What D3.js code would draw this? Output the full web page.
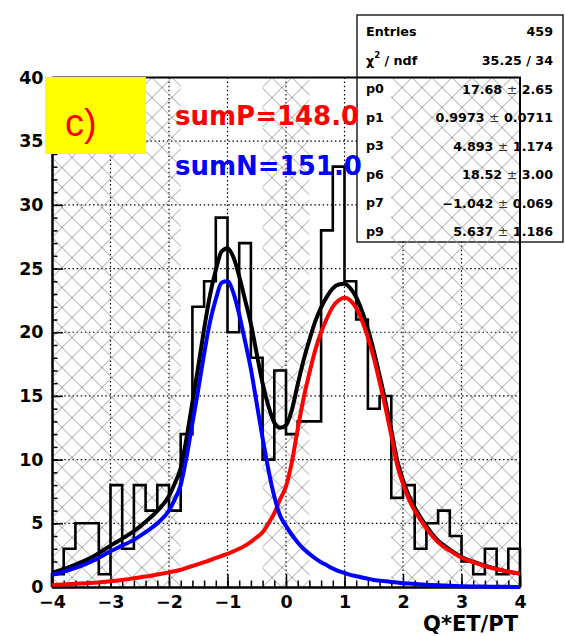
<!DOCTYPE html>
<html>
<head>
<meta charset="utf-8">
<script src="https://cdn.jsdelivr.net/npm/d3@7"></script>
<style>
  html, body { margin: 0; padding: 0; background: #fff; }
  svg { display: block; }
</style>
</head>
<body>
<script>
// Histogram of Q*ET/PT: 40 bins of width 0.2 between -4 and 4
const binStart = -4;
const binWidth = 0.2;
const binCounts = [1, 3, 5, 5, 1, 8, 3, 8, 6, 8,
                   6, 12, 22, 24, 29, 20, 27, 18, 10, 17,
                   12, 13, 13, 28, 33, 24, 21, 14, 15, 7,
                   8, 3, 5, 6, 4, 2, 1, 3, 1, 3];

// Fit curves sampled along x
const fitX = [-4.0, -3.8, -3.6, -3.4, -3.2, -3.0, -2.8, -2.6, -2.4, -2.2,
              -2.0, -1.9, -1.8, -1.7, -1.6, -1.5, -1.4, -1.3, -1.2, -1.1,
              -1.0, -0.9, -0.8, -0.7, -0.6, -0.5, -0.4, -0.3, -0.2, -0.1,
               0.0, 0.1, 0.2, 0.3, 0.4, 0.5, 0.6, 0.7, 0.8, 0.9,
               1.0, 1.1, 1.2, 1.3, 1.4, 1.5, 1.6, 1.7, 1.8, 1.9,
               2.0, 2.1, 2.2, 2.4, 2.6, 2.8, 3.0, 3.2, 3.4, 3.6,
               3.8, 4.0];
const fitNeg = [0.95, 1.2, 1.5, 1.85, 2.3, 2.8, 3.25, 3.7, 4.3, 5.0,
                6.0, 6.9, 8.0, 10.2, 12.85, 15.5, 18.3, 20.8, 22.6, 23.9,
                24.0, 23.1, 21.4, 19.3, 17.1, 14.4, 11.7, 9.2, 7.1, 5.6,
                4.8, 4.1, 3.5, 3.0, 2.6, 2.25, 1.95, 1.7, 1.45, 1.25,
                1.1, 0.95, 0.85, 0.75, 0.65, 0.55, 0.5, 0.45, 0.4, 0.35,
                0.3, 0.27, 0.24, 0.18, 0.13, 0.09, 0.06, 0.04, 0.03, 0.02,
                0.01, 0.0];
const fitPos = [0.16, 0.2, 0.25, 0.3, 0.36, 0.45, 0.55, 0.68, 0.82, 0.98,
                1.15, 1.25, 1.35, 1.5, 1.65, 1.8, 1.95, 2.1, 2.28, 2.45,
                2.6, 2.8, 3.0, 3.25, 3.55, 3.9, 4.3, 5.0, 5.8, 6.9,
                7.9, 9.8, 12.4, 14.8, 16.8, 18.6, 20.0, 21.1, 22.0, 22.5,
                22.7, 22.5, 21.9, 20.9, 19.6, 18.0, 16.1, 14.1, 11.9, 9.6,
                8.1, 6.9, 6.0, 4.6, 3.5, 2.85, 2.3, 1.95, 1.65, 1.4,
                1.2, 1.05];
const fitTotal = [1.11, 1.4, 1.75, 2.15, 2.66, 3.25, 3.8, 4.38, 5.12, 5.98,
                  7.15, 8.15, 9.35, 11.7, 14.5, 17.3, 20.25, 22.9, 24.88, 26.35,
                  26.6, 25.9, 24.4, 22.55, 20.65, 18.3, 16.0, 14.2, 12.9, 12.5,
                  12.7, 13.9, 15.9, 17.8, 19.4, 20.85, 21.95, 22.8, 23.45, 23.75,
                  23.8, 23.45, 22.75, 21.65, 20.25, 18.55, 16.6, 14.55, 12.3, 9.95,
                  8.4, 7.17, 6.24, 4.78, 3.63, 2.94, 2.36, 1.99, 1.68, 1.42,
                  1.21, 1.05];

// Hatched (excluded) x ranges
const hatchRanges = [[-4, -1.8], [-0.4, 0.4], [1.8, 4]];

// Axis ticks
const xMajorTicks = [-4, -3, -2, -1, 0, 1, 2, 3, 4];
const yMajorTicks = [0, 5, 10, 15, 20, 25, 30, 35, 40];

// Statistics box
const statNames = ["Entries", "χ2 / ndf", "p0", "p1", "p3", "p6", "p7", "p9"];
const statValues = ["459", "35.25 / 34", "17.68 ± 2.65", "0.9973 ± 0.0711", "4.893 ± 1.174",
                    "18.52 ± 3.00", "−1.042 ± 0.069", "5.637 ± 1.186"];

const sumLabels = ["sumP=148.0", "sumN=151.0"];
const panelTag = "c)";
const xTitle = "Q*ET/PT";

// ---------------------------------------------------------------
const W = 565, H = 636;
const frame = {left: 52, right: 520, top: 77.5, bottom: 587};
const axisFont = "'DejaVu Sans', sans-serif";

const x = d3.scaleLinear().domain([-4, 4]).range([frame.left, frame.right]);
const y = d3.scaleLinear().domain([0, 40]).range([frame.bottom, frame.top]);

const svg = d3.select("body").append("svg")
  .attr("width", W).attr("height", H)
  .attr("viewBox", `0 0 ${W} ${H}`);

svg.append("rect").attr("width", W).attr("height", H).attr("fill", "#fff");

const defs = svg.append("defs");
defs.append("clipPath").attr("id", "plotClip")
  .append("rect")
  .attr("x", frame.left).attr("y", frame.top)
  .attr("width", frame.right - frame.left)
  .attr("height", frame.bottom - frame.top);

// Cross-hatch tile: both diagonals plus the corner pieces so tiles join seamlessly
const pat = defs.append("pattern")
  .attr("id", "crossHatch")
  .attr("patternUnits", "userSpaceOnUse")
  .attr("width", 20).attr("height", 20)
  .attr("x", frame.left).attr("y", frame.top);
pat.append("path")
  .attr("d", "M-1,-1L21,21M21,-1L-1,21M-1,19L1,21M19,-1L21,1M-1,1L1,-1M19,21L21,19")
  .attr("stroke", "#a0a0a0").attr("stroke-width", 1).attr("fill", "none");

// Dotted grid
const grid = svg.append("g").attr("stroke", "#000").attr("stroke-width", 1.2)
  .attr("stroke-dasharray", "1.5,2.6");
grid.selectAll("line.gx").data(xMajorTicks.slice(1, -1)).join("line")
  .attr("x1", d => x(d)).attr("x2", d => x(d))
  .attr("y1", frame.top).attr("y2", frame.bottom);
grid.selectAll("line.gy").data(yMajorTicks.slice(1, -1)).join("line")
  .attr("x1", frame.left).attr("x2", frame.right)
  .attr("y1", d => y(d)).attr("y2", d => y(d));

// Statistics box
const box = {x: 357, y: 15, w: 206, h: 227};
svg.append("rect")
  .attr("x", box.x).attr("y", box.y).attr("width", box.w).attr("height", box.h)
  .attr("fill", "#fff").attr("stroke", "#000").attr("stroke-width", 1.3);

// Hatched ranges
svg.append("g").attr("clip-path", "url(#plotClip)")
  .selectAll("rect").data(hatchRanges).join("rect")
  .attr("x", d => x(d[0])).attr("width", d => x(d[1]) - x(d[0]))
  .attr("y", frame.top).attr("height", frame.bottom - frame.top)
  .attr("fill", "url(#crossHatch)");

// Statistics text
const rowY = d3.scalePoint().domain(d3.range(statNames.length))
  .range([box.y + 16.7, box.y + 216]);
const stats = svg.append("g")
  .attr("font-family", axisFont).attr("font-weight", "bold")
  .attr("font-size", 12.7).attr("fill", "#000");
statNames.forEach((name, i) => {
  const t = stats.append("text").attr("x", box.x + 9).attr("y", rowY(i))
    .attr("dominant-baseline", "central");
  if (name.startsWith("χ2")) {
    t.append("tspan").text("χ");
    t.append("tspan").attr("dy", -5).attr("font-size", 8.5).text("2");
    t.append("tspan").attr("dy", 5).text(name.slice(2));
  } else {
    t.text(name);
  }
});
statValues.forEach((val, i) => {
  const t = stats.append("text").attr("x", box.x + 196).attr("y", rowY(i))
    .attr("dominant-baseline", "central").attr("text-anchor", "end");
  const parts = val.split("±");
  if (parts.length === 2) {
    t.append("tspan").text(parts[0]);
    t.append("tspan").attr("font-weight", "normal").attr("fill", "#333").text("±");
    t.append("tspan").text(parts[1]);
  } else {
    t.text(val);
  }
});

// Histogram outline
const bins = binCounts.map((c, i) => ({x0: binStart + i * binWidth, x1: binStart + (i + 1) * binWidth, c}));
const stepPts = [[bins[0].x0, 0]];
bins.forEach(b => { stepPts.push([b.x0, b.c]); stepPts.push([b.x1, b.c]); });
stepPts.push([bins[bins.length - 1].x1, 0]);
svg.append("path")
  .attr("d", d3.line().x(d => x(d[0])).y(d => y(d[1]))(stepPts))
  .attr("fill", "none").attr("stroke", "#000").attr("stroke-width", 2.6)
  .attr("stroke-linejoin", "miter");

// Axes
const xMinor = d3.range(-4, 4.0001, 0.2).map(v => +v.toFixed(1));
const yMinor = d3.range(0, 40.0001, 1);

const xAxisMinor = d3.axisBottom(x).tickValues(xMinor).tickSize(-6.5).tickSizeOuter(0).tickFormat("");
const xAxisMajor = d3.axisBottom(x).tickValues(xMajorTicks).tickSize(-13).tickSizeOuter(0)
  .tickPadding(9).tickFormat(d3.format("d"));
const yAxisMinor = d3.axisLeft(y).tickValues(yMinor).tickSize(-5.5).tickSizeOuter(0).tickFormat("");
const yAxisMajor = d3.axisLeft(y).tickValues(yMajorTicks).tickSize(-11).tickSizeOuter(0)
  .tickPadding(8.5).tickFormat(d3.format("d"));

function styleAxis(g) {
  g.selectAll(".domain").attr("stroke", "#000").attr("stroke-width", 2);
  g.selectAll(".tick line").attr("stroke", "#000").attr("stroke-width", 1.5);
  g.selectAll("text").attr("font-family", axisFont).attr("font-weight", "bold")
    .attr("font-size", 17.5).attr("fill", "#000");
}
svg.append("g").attr("transform", `translate(0,${frame.bottom})`).call(xAxisMinor).call(styleAxis);
svg.append("g").attr("transform", `translate(0,${frame.bottom})`).call(xAxisMajor).call(styleAxis);
svg.append("g").attr("transform", `translate(${frame.left},0)`).call(yAxisMinor).call(styleAxis);
svg.append("g").attr("transform", `translate(${frame.left},0)`).call(yAxisMajor).call(styleAxis);

// Top and right frame lines
svg.append("path")
  .attr("d", `M${frame.left},${frame.top}H${frame.right}V${frame.bottom}`)
  .attr("fill", "none").attr("stroke", "#000").attr("stroke-width", 2);

// Fit curves
const fitLine = vals => d3.line()
  .x((d, i) => x(fitX[i])).y(d => y(d))
  .curve(d3.curveMonotoneX)(vals);
const curves = [
  {vals: fitTotal, color: "#000000"},
  {vals: fitPos, color: "#ff0000"},
  {vals: fitNeg, color: "#0000ff"}
];
svg.append("g").selectAll("path").data(curves).join("path")
  .attr("d", d => fitLine(d.vals))
  .attr("fill", "none").attr("stroke", d => d.color)
  .attr("stroke-width", 4).attr("stroke-linejoin", "round");

// Axis title
svg.append("text")
  .attr("x", 518).attr("y", 631)
  .attr("text-anchor", "end")
  .attr("font-family", axisFont).attr("font-weight", "bold").attr("font-size", 21)
  .attr("fill", "#000").text(xTitle);

// Sum labels
svg.selectAll("text.sum").data(sumLabels).join("text")
  .attr("class", "sum")
  .attr("x", 175).attr("y", (d, i) => 125 + i * 50)
  .attr("font-family", axisFont).attr("font-weight", "bold").attr("font-size", 26)
  .attr("fill", (d, i) => i === 0 ? "#ff0000" : "#0000ff")
  .text(d => d);

// Panel tag
svg.append("rect").attr("x", 45).attr("y", 77).attr("width", 101).attr("height", 77)
  .attr("fill", "#ffff00");
svg.append("text").attr("x", 65).attr("y", 136)
  .attr("font-family", "'Liberation Sans', Arial, sans-serif").attr("font-size", 38)
  .attr("fill", "#ff0000").text(panelTag);
</script>
</body>
</html>
